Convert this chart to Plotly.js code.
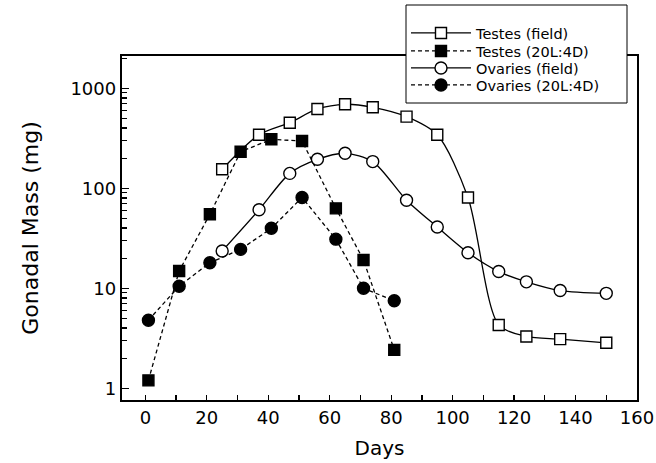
<!DOCTYPE html>
<html>
<head>
<meta charset="utf-8">
<script src="https://cdn.plot.ly/plotly-3.0.1.min.js"></script>
<style>html,body{margin:0;padding:0;background:#fff;}#chart{width:656px;height:463px;}</style>
</head>
<body>
<div id="chart"></div>
<script>
// Field data (days)
const fieldDays = [25, 37, 47, 56, 65, 74, 85, 95, 105, 115, 124, 135, 150];
const testesField = [155, 343, 453, 621, 692, 646, 521, 343, 81, 4.3, 3.3, 3.1, 2.85];
const ovariesField = [23.6, 61, 141, 195, 224, 185, 76, 41, 22.7, 14.7, 11.6, 9.5, 8.9];
// 20L:4D data (days)
const labDays = [1, 11, 21, 31, 41, 51, 62, 71, 81];
const testesLab = [1.2, 14.9, 55, 232, 309, 297, 63, 19.2, 2.42];
const ovariesLab = [4.8, 10.5, 18, 24.5, 39.8, 81, 31, 10, 7.5];

const seriesNames = ['Testes (field)', 'Testes (20L:4D)', 'Ovaries (field)', 'Ovaries (20L:4D)'];
const yTickVals = [1, 10, 100, 1000];
const yTickText = ['1', '10', '100', '1000'];

const minorY = [];
yTickVals.forEach(d => { for (let k = 2; k <= 9; k++) { if (d * k < 2100) minorY.push(d * k); } });

const FONT = 'DejaVu Sans, sans-serif';

// plot area in pixels (for paper-coordinate conversion of the legend frame)
const PL = 122, PR = 637, PT = 56, PB = 400;
const pw = PR - PL, ph = PB - PT;
const px2x = p => (p - PL) / pw;
const px2y = p => (PB - p) / ph;

const legendIds = ['legend', 'legend2', 'legend3', 'legend4'];
const legendRowY = [33, 51, 68, 85];

function mk(x, y, name, symbol, filled, dashed, leg) {
  return {
    x: x, y: y, name: name, type: 'scatter', mode: 'lines+markers', legend: leg,
    line: {color: '#000', width: 1.3, dash: dashed ? '4px,3px' : 'solid', shape: dashed ? 'linear' : 'spline', smoothing: 0.8},
    marker: {symbol: symbol, size: symbol === 'square' ? 11 : 12, color: filled ? '#000' : '#fff', line: {color: '#000', width: 1.4}},
    cliponaxis: false
  };
}

const data = [
  mk(fieldDays, testesField, seriesNames[0], 'square', false, false, legendIds[0]),
  mk(labDays, testesLab, seriesNames[1], 'square', true, true, legendIds[1]),
  mk(fieldDays, ovariesField, seriesNames[2], 'circle', false, false, legendIds[2]),
  mk(labDays, ovariesLab, seriesNames[3], 'circle', true, true, legendIds[3])
];

const layout = {
  width: 656, height: 463,
  margin: {l: PL, r: 656 - PR, t: PT, b: 463 - PB, autoexpand: false},
  paper_bgcolor: '#fff', plot_bgcolor: '#fff',
  font: {family: FONT, color: '#000', size: 17},
  showlegend: true,
  shapes: [{
    type: 'rect', xref: 'paper', yref: 'paper', layer: 'above',
    x0: px2x(406), x1: px2x(627), y0: px2y(103), y1: px2y(5),
    fillcolor: '#fff', line: {color: '#000', width: 1}
  }],
  xaxis: {
    range: [-7.6, 160], tickmode: 'linear', tick0: 0, dtick: 20,
    ticks: 'inside', ticklen: 5, tickwidth: 1.2, tickcolor: '#000',
    minor: {tickmode: 'linear', tick0: 0, dtick: 10, ticks: 'inside', ticklen: 5, tickwidth: 1.2, tickcolor: '#000'},
    showgrid: false, zeroline: false,
    showline: true, mirror: true, linewidth: 2.2, linecolor: '#000',
    tickfont: {family: FONT, size: 18},
    title: {text: 'Days', font: {family: FONT, size: 20}, standoff: 14}
  },
  yaxis: {
    type: 'log', range: [-0.117, 3.323],
    tickmode: 'array', tickvals: yTickVals, ticktext: yTickText,
    ticks: 'inside', ticklen: 7, tickwidth: 1.2, tickcolor: '#000',
    minor: {tickmode: 'array', tickvals: minorY, ticks: 'inside', ticklen: 5, tickwidth: 1.2, tickcolor: '#000'},
    showgrid: false, zeroline: false,
    showline: true, mirror: true, linewidth: 2.2, linecolor: '#000',
    tickfont: {family: FONT, size: 18},
    title: {text: 'Gonadal Mass (mg)', font: {family: FONT, size: 22}, standoff: 26}
  }
};

legendIds.forEach((id, i) => {
  layout[id] = {
    xref: 'container', yref: 'container',
    x: 406 / 656, y: 1 - legendRowY[i] / 463, xanchor: 'left', yanchor: 'middle',
    bgcolor: 'rgba(0,0,0,0)', borderwidth: 0,
    font: {family: FONT, size: 14.5, color: '#000'},
    itemwidth: 60
  };
});

Plotly.newPlot('chart', data, layout, {staticPlot: true, displayModeBar: false});
</script>
</body>
</html>
